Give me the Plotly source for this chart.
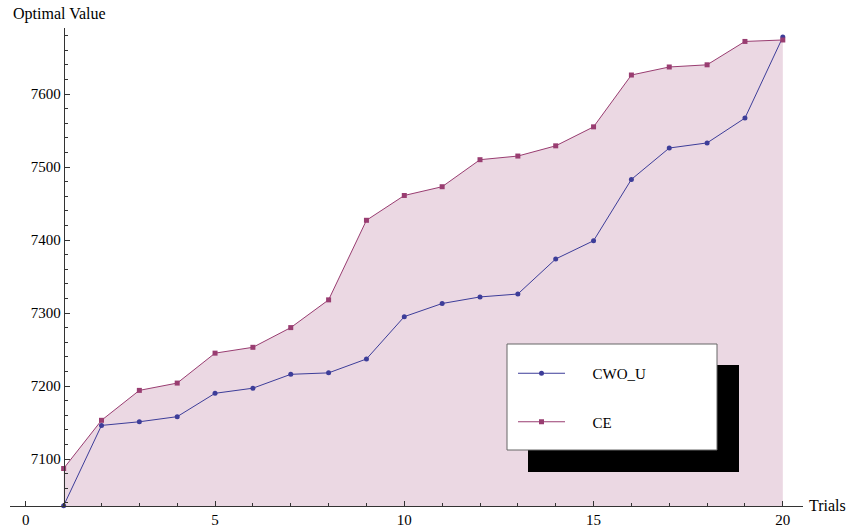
import plotly.graph_objects as go

# ---- data ----
trials = list(range(1, 21))
cwo_u = [7036, 7146, 7151, 7158, 7190, 7197, 7216, 7218, 7237, 7295,
         7313, 7322, 7326, 7374, 7399, 7483, 7526, 7533, 7567, 7678]
ce = [7087, 7153, 7194, 7204, 7245, 7253, 7280, 7318, 7427, 7461,
      7473, 7510, 7515, 7529, 7555, 7626, 7637, 7640, 7672, 7674]
x_ticks = [0, 5, 10, 15, 20]
y_ticks = [7100, 7200, 7300, 7400, 7500, 7600]

W, H = 848, 529
FONT = "Liberation Serif"
BLUE = "#3D3D99"
PURPLE = "#993D71"
FILL = "#EBD8E3"
AXIS = "#333333"

# pixel helpers (layout only)
def px(v):
    return v / W

def py(v):
    return (H - v) / H

x0px, x1px = 10, 803
y0px, y1px = 506, 28
xr = [(x0px - 25.8) / 37.85, (x1px - 25.8) / 37.85]
yr = [7100 - (y0px - 459) / 0.73, 7100 + (459 - y1px) / 0.73]
xdom = [px(x0px), px(x1px)]
ydom = [py(y0px), py(y1px)]
ypos = xdom[0] + (1 - xr[0]) / (xr[1] - xr[0]) * (xdom[1] - xdom[0])

PAD = "\u00a0" * 6

fig = go.Figure()
fig.add_trace(go.Scatter(x=trials, y=ce, mode="none", fill="tozeroy",
                         fillcolor=FILL, showlegend=False, hoverinfo="skip"))
fig.add_trace(go.Scatter(x=trials, y=cwo_u, mode="lines+markers", name=PAD + "CWO_U",
                         line=dict(color=BLUE, width=1),
                         marker=dict(color=BLUE, size=5, symbol="circle"),
                         cliponaxis=False, legendgroup="a"))
fig.add_trace(go.Scatter(x=trials, y=ce, mode="lines+markers", name=PAD + "CE",
                         line=dict(color=PURPLE, width=1),
                         marker=dict(color=PURPLE, size=5, symbol="square"),
                         cliponaxis=False, legendgroup="b"))

# legend box with shadow
fig.add_shape(type="rect", xref="paper", yref="paper",
              x0=px(528), x1=px(739), y0=py(472), y1=py(365),
              fillcolor="black", line=dict(width=0), layer="above")
fig.add_shape(type="rect", xref="paper", yref="paper",
              x0=px(507), x1=px(717), y0=py(450), y1=py(344),
              fillcolor="white", line=dict(color="#666666", width=1), layer="above")

fig.update_layout(
    width=W, height=H, autosize=False,
    margin=dict(l=0, r=0, t=0, b=0, pad=0),
    paper_bgcolor="white", plot_bgcolor="rgba(0,0,0,0)",
    font=dict(family=FONT, size=15, color="black"),
    showlegend=True,
    legend=dict(x=px(513), y=py(357), xanchor="left", yanchor="top",
                bgcolor="rgba(0,0,0,0)", borderwidth=0,
                font=dict(family=FONT, size=15, color="black"),
                traceorder="grouped", tracegroupgap=26, itemwidth=47),
    xaxis=dict(domain=xdom, range=xr, anchor="free", position=ydom[0],
               showgrid=False, zeroline=False, showline=True,
               linecolor=AXIS, linewidth=1,
               tickmode="array", tickvals=x_ticks, ticktext=[str(t) for t in x_ticks],
               ticks="inside", ticklen=5, tickcolor=AXIS, tickwidth=1,
               minor=dict(dtick=1, tick0=0, ticks="inside", ticklen=3,
                          tickcolor=AXIS, showgrid=False),
               tickfont=dict(family=FONT, size=15), automargin=False),
    yaxis=dict(domain=ydom, range=yr, anchor="free", position=ypos,
               showgrid=False, zeroline=False, showline=True,
               linecolor=AXIS, linewidth=1,
               tickmode="array", tickvals=y_ticks, ticktext=[str(t) for t in y_ticks],
               ticks="inside", ticklen=5, tickcolor=AXIS, tickwidth=1,
               minor=dict(dtick=20, tick0=7000, ticks="inside", ticklen=3,
                          tickcolor=AXIS, showgrid=False),
               tickfont=dict(family=FONT, size=15), automargin=False),
    annotations=[
        dict(text="Optimal Value", xref="paper", yref="paper",
             x=px(11), y=py(14), xanchor="left", yanchor="middle",
             showarrow=False, font=dict(family=FONT, size=16)),
        dict(text="Trials", xref="paper", yref="paper",
             x=px(807), y=py(505), xanchor="left", yanchor="middle",
             showarrow=False, font=dict(family=FONT, size=16)),
    ],
)

fig.write_html("out.html", config={"displayModeBar": False},
               post_script="document.body.style.margin='0px';document.body.style.overflow='hidden';")
